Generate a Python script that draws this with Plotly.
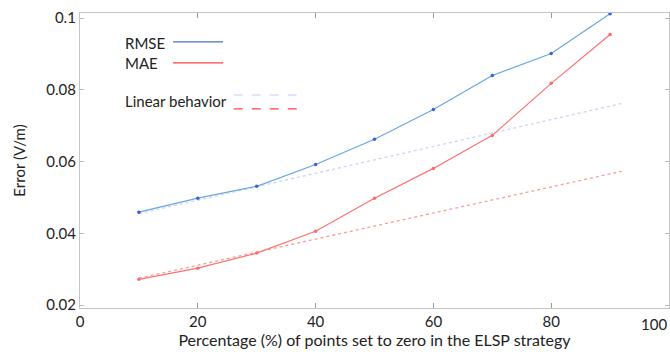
import plotly.graph_objects as go

pct = [10, 20, 30, 40, 50, 60, 70, 80, 90]
rmse = [0.0459, 0.0498, 0.0531, 0.0592, 0.0662, 0.0745, 0.0840, 0.0901, 0.1012]
mae = [0.0272, 0.0303, 0.0345, 0.0406, 0.0498, 0.0581, 0.0673, 0.0818, 0.0954]

lin_x = [10, 92]
lin_rmse = [0.0455, 0.0762]
lin_mae = [0.0275, 0.0573]

x_ticks = [0, 20, 40, 60, 80]
x_last_tick = 100
y_ticks = [0.02, 0.04, 0.06, 0.08, 0.1]
y_tick_labels = ["0.02", "0.04", "0.06", "0.08", "0.1"]

FONT = "Lato"
AX = "#c4c4c4"
TXT = "#222"

fig = go.Figure()
fig.add_trace(go.Scatter(x=lin_x, y=lin_rmse, mode="lines",
                         line=dict(color="#c9d5f2", width=1.3, dash="dot"), showlegend=False))
fig.add_trace(go.Scatter(x=lin_x, y=lin_mae, mode="lines",
                         line=dict(color="#ff9a9a", width=1.3, dash="dot"), showlegend=False))
fig.add_trace(go.Scatter(x=pct, y=rmse, mode="lines+markers",
                         line=dict(color="#6aa6e0", width=1.2),
                         marker=dict(color="#3a5fd8", size=3.5), showlegend=False))
fig.add_trace(go.Scatter(x=pct, y=mae, mode="lines+markers",
                         line=dict(color="#ff7070", width=1.2),
                         marker=dict(color="#ff6a6a", size=3.5), showlegend=False))

# custom legend (text left, sample line right)
legend_items = [
    ("RMSE", 0.898, "#4472c4", 0.902),
    ("MAE", 0.831, "#ff4040", 0.831),
]
for txt, ty, col, ly in legend_items:
    fig.add_annotation(x=0.073, y=ty, xref="paper", yref="paper", text=txt,
                       showarrow=False, xanchor="left", yanchor="middle",
                       font=dict(family=FONT, size=15, color=TXT))
    fig.add_shape(type="line", xref="paper", yref="paper", x0=0.158, x1=0.243,
                  y0=ly, y1=ly, line=dict(color=col, width=1.2))
fig.add_annotation(x=0.073, y=0.702, xref="paper", yref="paper", text="Linear behavior",
                   showarrow=False, xanchor="left", yanchor="middle",
                   font=dict(family=FONT, size=15, color=TXT))
fig.add_shape(type="line", xref="paper", yref="paper", x0=0.261, x1=0.372,
              y0=0.722, y1=0.722, line=dict(color="#c0cdf0", width=1.2, dash="dash"))
fig.add_shape(type="line", xref="paper", yref="paper", x0=0.261, x1=0.369,
              y0=0.675, y1=0.675, line=dict(color="#ff4040", width=1.2, dash="dash"))

# last x tick label at the right edge
fig.add_annotation(x=1, y=0, xref="paper", yref="paper", text=str(x_last_tick),
                   showarrow=False, xanchor="right", yanchor="top", yshift=-5,
                   font=dict(family=FONT, size=15, color=TXT))

fig.update_layout(
    width=670, height=352,
    margin=dict(l=80, r=1, t=13, b=44),
    paper_bgcolor="white", plot_bgcolor="white",
    font=dict(family=FONT, size=15, color=TXT),
    xaxis=dict(range=[0, 100], tickvals=x_ticks, showgrid=False, zeroline=False,
               showline=True, linecolor=AX, linewidth=1.3, mirror="ticks",
               ticks="inside", ticklen=5, tickcolor="#999",
               tickfont=dict(family=FONT, size=15, color=TXT),
               title=dict(text="Percentage (%) of points set to zero in the ELSP strategy",
                          font=dict(family=FONT, size=16, color=TXT), standoff=2)),
    yaxis=dict(range=[0.0192, 0.1014], tickvals=y_ticks, ticktext=y_tick_labels,
               showgrid=False, zeroline=False,
               showline=True, linecolor=AX, linewidth=1.3, mirror="ticks",
               ticks="inside", ticklen=4, tickcolor="#bbb",
               tickfont=dict(family=FONT, size=15, color=TXT),
               title=dict(text="Error (V/m)", font=dict(family=FONT, size=15, color=TXT),
                          standoff=16)),
)

fig.write_html("out.html")
